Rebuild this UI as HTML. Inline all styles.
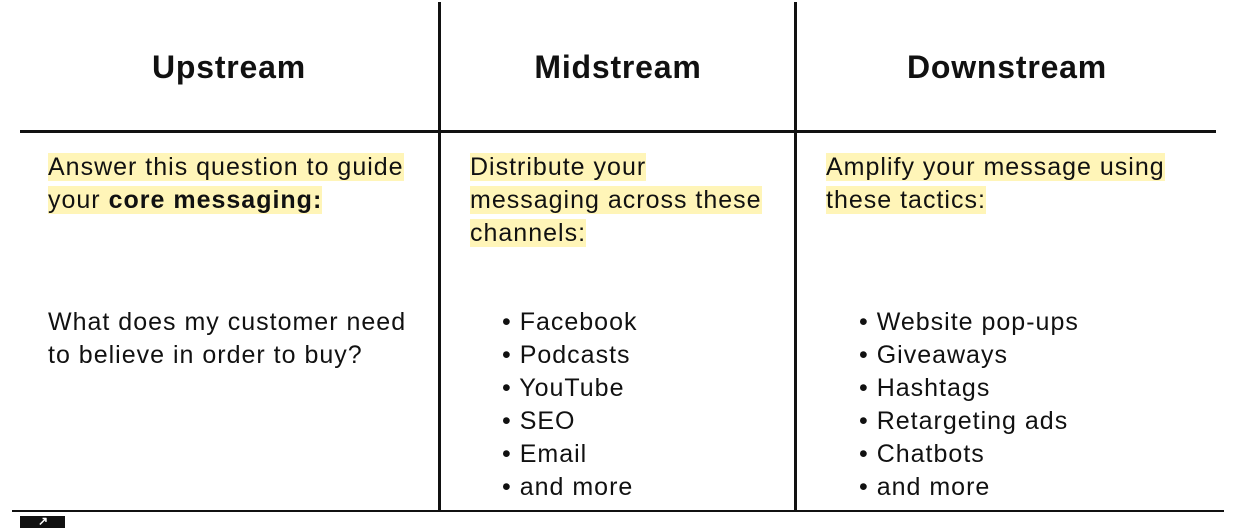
<!DOCTYPE html>
<html><head><style>
body{margin:0;width:1244px;height:528px;background:#fff;position:relative;overflow:hidden;font-family:"Liberation Sans",sans-serif;color:#111}
.l{position:absolute;background:#111}
h2{position:absolute;top:49px;margin:0;font-size:32px;letter-spacing:0.8px;font-weight:bold;text-align:center;width:300px}
.t{position:absolute;font-size:25px;letter-spacing:1px;line-height:33px;white-space:nowrap}
.hl{background:#fff5b8}
</style></head><body>
<div class="l" style="left:20px;top:130px;width:1196px;height:3px"></div>
<div class="l" style="left:438px;top:2px;width:3px;height:508px"></div>
<div class="l" style="left:794px;top:2px;width:3px;height:508px"></div>
<div class="l" style="left:12px;top:510px;width:1212px;height:2px"></div>
<div class="l" style="left:20px;top:516px;width:45px;height:12px"></div>
<div style="position:absolute;left:38px;top:514px;color:#fff;font-size:12px;font-weight:bold">↗</div>
<h2 style="left:79px">Upstream</h2>
<h2 style="left:468px">Midstream</h2>
<h2 style="left:857px">Downstream</h2>
<div class="t" style="left:48px;top:151px"><span class="hl">Answer this question to guide</span><br><span class="hl">your <b>core messaging:</b></span></div>
<div class="t" style="left:470px;top:151px"><span class="hl">Distribute your</span><br><span class="hl">messaging across these</span><br><span class="hl">channels:</span></div>
<div class="t" style="left:826px;top:151px"><span class="hl">Amplify your message using</span><br><span class="hl">these tactics:</span></div>
<div class="t" style="left:48px;top:306px">What does my customer need<br>to believe in order to buy?</div>
<div class="t" style="left:502px;top:306px">• Facebook<br>• Podcasts<br>• YouTube<br>• SEO<br>• Email<br>• and more</div>
<div class="t" style="left:859px;top:306px">• Website pop-ups<br>• Giveaways<br>• Hashtags<br>• Retargeting ads<br>• Chatbots<br>• and more</div>
</body></html>
